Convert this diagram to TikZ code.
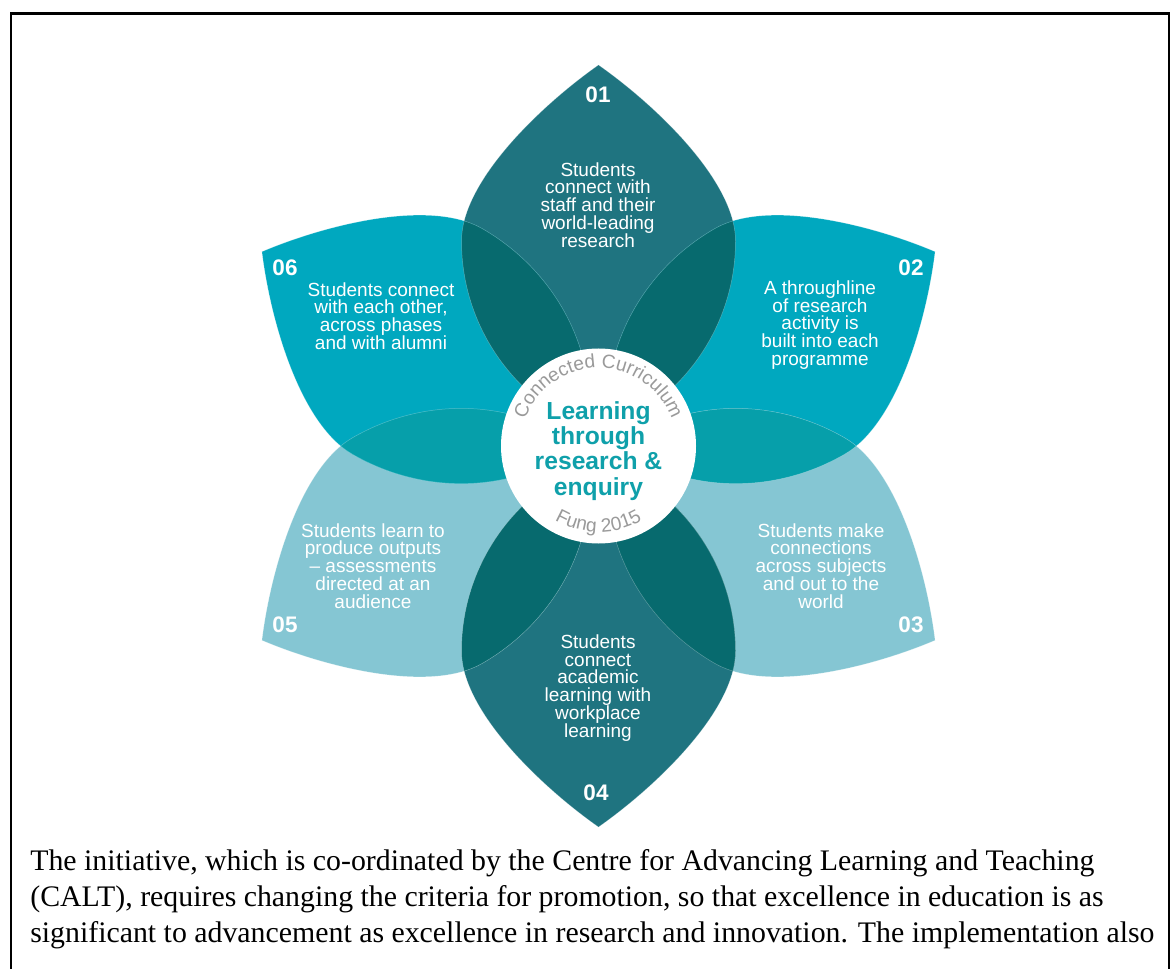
\documentclass[tikz,border=0pt]{standalone}
\usepackage{fontspec}
\setmainfont{Liberation Serif}
\newfontfamily\hv{Liberation Sans}
\usetikzlibrary{decorations.text}
\definecolor{pA}{HTML}{1F7480}
\definecolor{pB}{HTML}{00A8BF}
\definecolor{pC}{HTML}{85C6D3}
\definecolor{ovD}{HTML}{076A6E}
\definecolor{ovM}{HTML}{069FAA}
\definecolor{ctr}{HTML}{0FA0AA}
\definecolor{gtxt}{HTML}{9A9A9A}
\newcommand\petalP[3]{#1[rotate=#2,#3] (0,381) .. controls (-57,341) and (-137,265) .. (-137,205) .. controls (-137,118.4) and (-81.9,41.2) .. (0,13) .. controls (81.9,41.2) and (137,118.4) .. (137,205) .. controls (137,265) and (57,341) .. (0,381) -- cycle;}
\tikzset{
  side/.style={xscale=0.95, yscale=1.02},
  seam/.style={white, draw opacity=0.3, line width=0.3pt},
  ptext/.style={text=white, align=center, inner sep=0pt, font=\hv\fontsize{11.4}{10.7}\selectfont},
  num/.style={text=white, inner sep=0pt, font=\hv\bfseries\fontsize{13.5}{14}\selectfont},
  para/.style={inner sep=0pt, anchor=base west, font=\fontsize{17.9}{21}\selectfont},
  frame/.style={line width=1.6pt, black}
}
\begin{document}
\begin{tikzpicture}[x=0.6pt, y=0.6pt]
\useasboundingbox (0,0) rectangle (1176,-969);
\fill[white] (0,0) rectangle (1176,-969);
\draw[frame] (11,-969) -- (11,-13.5) -- (1169,-13.5) -- (1169,-969);

\begin{scope}[shift={(598.5,-446)}]
  % petals
  \petalP{\fill}{0}{pA}
  \petalP{\fill}{-60}{pB,side}
  \petalP{\fill}{-120}{pC,side}
  \petalP{\fill}{180}{pA}
  \petalP{\fill}{120}{pC,side}
  \petalP{\fill}{60}{pB,side}
  % overlaps
  \begin{scope}\petalP{\clip}{0}{}\petalP{\fill}{-60}{ovD,side}\end{scope}
  \begin{scope}\petalP{\clip}{0}{}\petalP{\fill}{60}{ovD,side}\end{scope}
  \begin{scope}\petalP{\clip}{180}{}\petalP{\fill}{-120}{ovD,side}\end{scope}
  \begin{scope}\petalP{\clip}{180}{}\petalP{\fill}{120}{ovD,side}\end{scope}
  \begin{scope}\petalP{\clip}{-60}{side}\petalP{\fill}{-120}{ovM,side}\end{scope}
  \begin{scope}\petalP{\clip}{60}{side}\petalP{\fill}{120}{ovM,side}\end{scope}
  % faint seams
  \petalP{\draw}{0}{seam}
  \petalP{\draw}{180}{seam}
  \petalP{\draw}{-60}{seam,side}
  \petalP{\draw}{60}{seam,side}
  \petalP{\draw}{-120}{seam,side}
  \petalP{\draw}{120}{seam,side}
  % centre
  \fill[white] (0,0) circle[radius=97.5];
  \path[decorate, decoration={text along path, text align=center, text color=gtxt,
     text={|\hv\fontsize{11.5}{12}\selectfont|Connected Curriculum}}]
     (165:78) arc[start angle=165, end angle=15, radius=78];
  \path[decorate, decoration={text along path, text align=center, text color=gtxt,
     text={|\hv\fontsize{11.5}{12}\selectfont|Fung 2015}}]
     (225:86) arc[start angle=225, end angle=315, radius=86];
\end{scope}

\node[text=ctr, align=center, inner sep=0pt, font=\hv\bfseries\fontsize{14.8}{15.1}\selectfont] (core) at (598.5,-451) {Learning\\through\\research \&\\enquiry};

\node[num] (n1) at (598,-95) {01};
\node[num] (n2) at (911,-268) {02};
\node[num] (n3) at (911,-625) {03};
\node[num] (n4) at (596,-793) {04};
\node[num] (n5) at (285,-625) {05};
\node[num] (n6) at (285,-268) {06};

\node[ptext] (t1) at (598,-205) {Students\\connect with\\staff and their\\world-leading\\research};
\node[ptext] (t2) at (820,-325) {A throughline\\of research\\activity is\\built into each\\programme};
\node[ptext] (t3) at (821,-566) {Students make\\connections\\across subjects\\and out to the\\world};
\node[ptext] (t4) at (598,-688) {Students\\connect\\academic\\learning with\\workplace\\learning};
\node[ptext] (t5) at (373,-566) {Students learn to\\produce outputs\\– assessments\\directed at an\\audience};
\node[ptext] (t6) at (381,-316) {Students connect\\with each other,\\across phases\\and with alumni};

\node[para] (p1) at (30,-870) {The initiative, which is co-ordinated by the Centre for Advancing Learning and Teaching};
\node[para] (p2) at (30,-906) {(CALT), requires changing the criteria for promotion, so that excellence in education is as};
\node[para] (p3) at (30,-942) {significant to advancement as excellence in research and innovation. The implementation also};
\end{tikzpicture}
\end{document}
